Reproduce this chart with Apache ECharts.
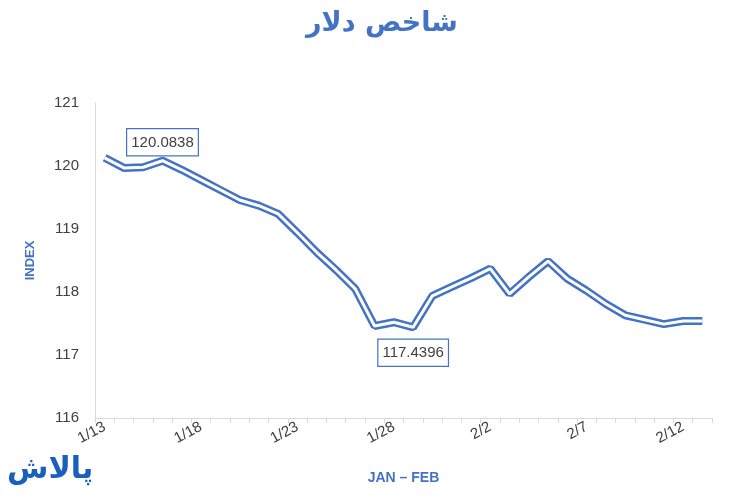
<!DOCTYPE html>
<html>
<head>
<meta charset="utf-8">
<script src="https://cdn.jsdelivr.net/npm/echarts@6/dist/echarts.min.js"></script>
<style>html,body{margin:0;padding:0;background:#fff;}#c{width:750px;height:500px;}</style>
</head>
<body>
<div id="c"></div>
<script>
var titleText = 'شاخص دلار';
var xName = 'JAN – FEB';
var yName = 'INDEX';
var logoText = 'پالاش';
var categories = ['1/13','1/14','1/15','1/16','1/17','1/18','1/19','1/20','1/21','1/22','1/23','1/24','1/25','1/26','1/27','1/28','1/29','1/30','1/31','2/1','2/2','2/3','2/4','2/5','2/6','2/7','2/8','2/9','2/10','2/11','2/12','2/13'];
var values = [120.13,119.97,119.98,120.0838,119.94,119.78,119.62,119.46,119.37,119.24,118.94,118.63,118.35,118.05,117.46,117.52,117.4396,117.94,118.08,118.22,118.37,117.97,118.24,118.49,118.21,118.02,117.81,117.63,117.56,117.49,117.54,117.54];
var yMin = 116, yMax = 121, yStep = 1;

var blue = '#4472C4';
var maxIdx = 3;
var minIdx = values.indexOf(Math.min.apply(null, values));
var boxLabel = {
  show: true,
  formatter: function (p) { return String(p.value); },
  color: '#404040', fontSize: 15, fontFamily: 'Liberation Sans',
  backgroundColor: '#fff', borderColor: blue, borderWidth: 1.2,
  padding: [6, 4, 5, 4]
};

var chart = echarts.init(document.getElementById('c'));
chart.setOption({
  animation: false,
  title: {
    text: titleText, left: 301, top: 5,
    textStyle: { color: blue, fontSize: 27, fontWeight: 'bold', fontFamily: 'DejaVu Sans' }
  },
  grid: { left: 95, right: 38, top: 103, bottom: 82 },
  xAxis: {
    type: 'category', data: categories, boundaryGap: true,
    name: xName, nameLocation: 'middle', nameGap: 53,
    nameTextStyle: { color: blue, fontWeight: 'bold', fontSize: 14, fontFamily: 'Liberation Sans' },
    axisLine: { lineStyle: { color: '#d9d9d9', width: 1 } },
    axisTick: { show: true, interval: 0, length: 5, lineStyle: { color: '#d9d9d9' } },
    axisLabel: { interval: 4, rotate: 28, margin: 8, color: '#404040', fontSize: 15, fontFamily: 'Liberation Sans' },
    splitLine: { show: false }
  },
  yAxis: {
    type: 'value', min: yMin, max: yMax, interval: yStep,
    name: yName, nameLocation: 'middle', nameGap: 58, nameRotate: 90,
    nameTextStyle: { color: blue, fontWeight: 'bold', fontSize: 13, fontFamily: 'Liberation Sans' },
    axisLine: { show: true, lineStyle: { color: '#d9d9d9', width: 1 } },
    axisTick: { show: false },
    axisLabel: { color: '#404040', fontSize: 15, margin: 16, fontFamily: 'Liberation Sans' },
    splitLine: { show: false }
  },
  graphic: [{
    type: 'text', left: 7, top: 455,
    style: { text: logoText, fill: '#1a5fc0', font: 'bold 30px "DejaVu Sans"' }
  }],
  series: [{
    type: 'line', data: values, symbol: 'none', silent: true,
    lineStyle: { color: blue, width: 8 }, z: 2
  }, {
    type: 'line', data: values, symbol: 'none', silent: true,
    lineStyle: { color: '#fff', width: 3 }, z: 3,
    markPoint: {
      silent: true,
      symbol: 'circle', symbolSize: 1,
      itemStyle: { color: 'rgba(255,255,255,0)' },
      data: [
        { coord: [maxIdx, values[maxIdx]], value: values[maxIdx],
          label: Object.assign({}, boxLabel, { position: 'top', distance: 5 }) },
        { coord: [minIdx, values[minIdx]], value: values[minIdx],
          label: Object.assign({}, boxLabel, { position: 'bottom', distance: 12 }) }
      ]
    }
  }]
});
</script>
</body>
</html>
